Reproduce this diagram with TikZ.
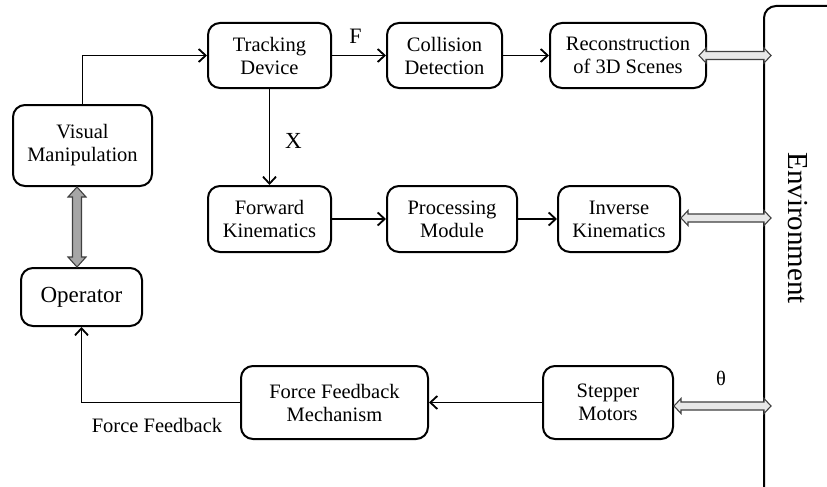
\documentclass[tikz,border=0pt]{standalone}
\usepackage{fontspec}
\setmainfont{Liberation Serif}
\usetikzlibrary{arrows.meta,calc}
\begin{document}
\begin{tikzpicture}[x=1pt,y=-1pt,
  box/.style={draw, line width=2pt, rounded corners=12pt, align=center,
    font=\fontsize{20.5}{23}\selectfont, inner sep=0pt},
  link/.style={line width=1.8pt, -{Straight Barb[length=7pt,width=13pt,line width=1.8pt]}},
  lbl/.style={font=\fontsize{20.5}{23}\selectfont, inner sep=0pt},
  % horizontal two-headed block arrow between two points at the same height
  hblock/.style={line width=1.1pt, draw=black!75, fill=black!9,
    to path={-- ($(\tikztostart)+(7,7.5)$) -- ($(\tikztostart)+(7,4)$)
      -- ($(\tikztotarget)+(-7,4)$) -- ($(\tikztotarget)+(-7,7.5)$)
      -- (\tikztotarget) -- ($(\tikztotarget)+(-7,-7.5)$)
      -- ($(\tikztotarget)+(-7,-4)$) -- ($(\tikztostart)+(7,-4)$)
      -- ($(\tikztostart)+(7,-7.5)$) -- cycle}},
  % vertical two-headed block arrow (start above target)
  vblock/.style={line width=1.1pt, draw=black!75, fill=black!35,
    to path={-- ($(\tikztostart)+(9,10)$) -- ($(\tikztostart)+(4.5,10)$)
      -- ($(\tikztotarget)+(4.5,-10)$) -- ($(\tikztotarget)+(9,-10)$)
      -- (\tikztotarget) -- ($(\tikztotarget)+(-9,-10)$)
      -- ($(\tikztotarget)+(-4.5,-10)$) -- ($(\tikztostart)+(-4.5,10)$)
      -- ($(\tikztostart)+(-9,10)$) -- cycle}}]

\useasboundingbox (0,0) rectangle (827,487);
\fill[white] (0,0) rectangle (827,487);
\clip (0,0) rectangle (827,487);

% blocks
\node[box, minimum width=123pt, minimum height=65pt] (track) at (269.5,55.5) {Tracking\\Device};
\node[box, minimum width=115pt, minimum height=65pt] (coll) at (444.5,55.5) {Collision\\Detection};
\node[box, minimum width=156pt, minimum height=65pt] (recon) at (628,55.5) {Reconstruction\\of 3D Scenes};
\node[box, minimum width=139pt, minimum height=81pt] (visual) at (82.5,145.5) {Visual\\Manipulation};
\node[box, minimum width=123pt, minimum height=66pt] (fwd) at (269.5,219) {Forward\\Kinematics};
\node[box, minimum width=130pt, minimum height=66pt] (proc) at (452,219) {Processing\\Module};
\node[box, minimum width=122pt, minimum height=66pt] (inv) at (619,219) {Inverse\\Kinematics};
\node[box, minimum width=121pt, minimum height=58pt, font=\fontsize{23}{26}\selectfont] (oper) at (81.5,297) {Operator};
\node[box, minimum width=187pt, minimum height=73pt] (ffm) at (334.5,402.5) {Force Feedback\\Mechanism};
\node[box, minimum width=130pt, minimum height=73pt] (step) at (608,402.5) {Stepper\\Motors};

% environment frame, running off the right and bottom edges
\node[draw, line width=2pt, rounded corners=12pt, minimum width=140pt,
  minimum height=492pt, inner sep=0pt, anchor=north west] (env) at (763,5) {};
\node[font=\fontsize{29}{32}\selectfont, rotate=-90, inner sep=0pt] (envtext) at (798,228) {Environment};

% connectors
\draw[link] (visual.north) |- (track.west);
\draw[link] (track) -- (coll);
\draw[link] (coll) -- (recon);
\draw[link] (track) -- (fwd);
\draw[link] (fwd) -- (proc);
\draw[link] (proc) -- (inv);
\draw[link] (step) -- (ffm);
\draw[link] (ffm.west) -| (oper.south);

% labels
\node[lbl, font=\fontsize{22}{24}\selectfont] (flbl) at (355.5,36) {F};
\node[lbl, font=\fontsize{23}{24}\selectfont] (xlbl) at (293.5,141) {X};
\node[lbl] (thlbl) at (721,378) {θ};
\node[lbl] (fflbl) at (157,425) {Force Feedback};

% two-headed block arrows to the environment
\coordinate (e1) at (771,55.5);
\coordinate (e2) at (771,218);
\coordinate (e3) at (771,406);
\draw[hblock] ([xshift=-8pt]recon.east |- e1) to (e1);
\draw[hblock] (inv.east |- e2) to (e2);
\draw[hblock] (step.east |- e3) to (e3);
\draw[vblock] ([xshift=-5.5pt]visual.south) to ([xshift=-4.5pt]oper.north);
\end{tikzpicture}
\end{document}
